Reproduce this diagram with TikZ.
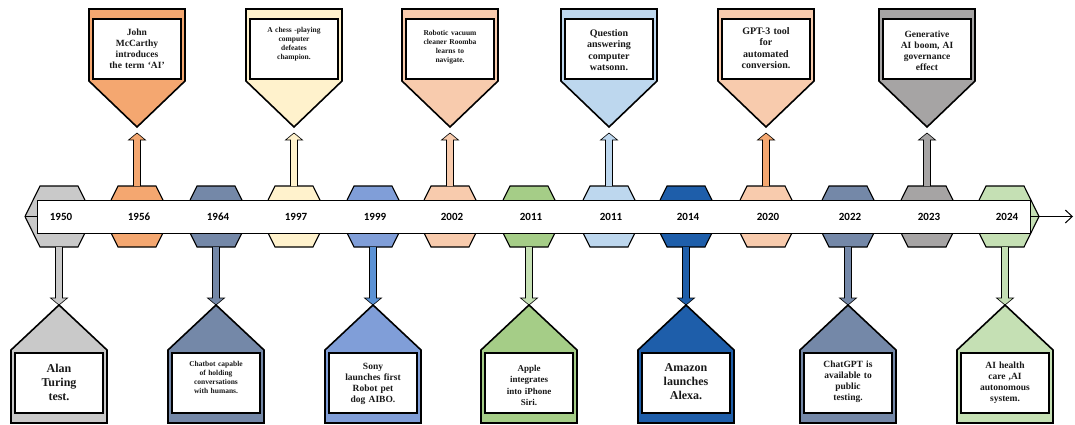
\documentclass[tikz,border=0pt]{standalone}
\usepackage{fontspec}
\setmainfont{Liberation Serif}
\newfontfamily\yearfont{Carlito}
\usetikzlibrary{calc}
\usetikzlibrary{arrows.meta}
\usepackage{xcolor}

\definecolor{cGray}{RGB}{201,201,201}
\definecolor{cOrange}{RGB}{244,167,112}
\definecolor{cSlate}{RGB}{116,136,168}
\definecolor{cYellow}{RGB}{255,242,204}
\definecolor{cBlue}{RGB}{128,158,216}
\definecolor{cBlueA}{RGB}{91,146,213}
\definecolor{cPeach}{RGB}{248,203,173}
\definecolor{cGreen}{RGB}{165,205,135}
\definecolor{cSky}{RGB}{189,215,238}
\definecolor{cNavy}{RGB}{30,94,170}
\definecolor{cDark}{RGB}{166,164,164}
\definecolor{cMint}{RGB}{197,224,180}

\newcommand{\cardsize}[2]{\fontsize{#1}{#2}\selectfont\bfseries}

\tikzset{
  hexbox/.style={draw=black, line width=1.1pt, line join=miter},
  band/.style={draw=black, line width=1pt, fill=white},
  yearlabel/.style={font=\yearfont\bfseries\fontsize{11}{12}\selectfont, inner sep=0pt},
  blockarrow/.style={draw=black, line width=0.6pt},
  card/.style={draw=black, line width=1.6pt, line join=miter},
  cardpane/.style={draw=black, line width=1.1pt, fill=white},
  cardtext/.style={anchor=north, inner sep=0pt, text width=84pt, align=center, text=black!90}
}

\begin{document}
\begin{tikzpicture}[x=1pt, y=-1pt]
\useasboundingbox (0,0) rectangle (1075,425);

% hexagons behind the band
\foreach \x/\fc [count=\n] in {59/cGray, 137/cOrange, 216/cSlate, 294/cYellow, 373/cBlue,
    450/cPeach, 529/cGreen, 609/cSky, 686/cNavy, 766/cPeach, 848/cSlate, 927/cDark, 1005/cMint}{
  \coordinate (h\n) at (\x,216.5);
  \draw[hexbox, fill=\fc] (\x-19,186) -- (\x+19,186) -- (\x+34,216.5) -- (\x+19,247)
    -- (\x-19,247) -- (\x-34,216.5) -- cycle;
}

% spine and band
\coordinate (spineA) at (25,216.5);
\coordinate (spineB) at (1073,216.5);
\draw[line width=1pt, -{Straight Barb[length=7pt, width=13pt, line width=1pt]}] (spineA) -- (spineB);
\draw[band] (37,200) rectangle (1030,233);

% years
\foreach \yr [count=\n] in {1950,1956,1964,1997,1999,2002,2011,2011,2014,2020,2022,2023,2024}{
  \node[yearlabel] (y\n) at ($(h\n)+(2,0)$) {\yr};
}

% cards above the band
\foreach \x/\fc/\ac [count=\n] in {137/cOrange/cOrange, 294/cYellow/cYellow, 450/cPeach/cPeach,
    609/cSky/cSky, 766/cPeach/cOrange, 927/cDark/cDark}{
  \coordinate (ub\n) at (\x,186);
  \coordinate (ut\n) at (\x,127);
  \draw[blockarrow, fill=\ac] (ub\n) ++(-3.5,0) -- ++(0,-46) -- ++(-5,0) -- ++(8.5,-7)
    -- ++(8.5,7) -- ++(-5,0) -- ++(0,46);
  \draw[card, fill=\fc] (ut\n) -- ++(-48,-46) -- ++(0,-72) -- ++(96,0) -- ++(0,72) -- cycle;
  \draw[cardpane] (\x-44,19) rectangle (\x+44,79);
}

% cards below the band
\foreach \x/\fc/\ac [count=\n] in {59/cGray/cGray, 216/cSlate/cSlate, 373/cBlue/cBlueA,
    529/cGreen/cMint, 686/cNavy/cNavy, 848/cSlate/cSlate, 1005/cMint/cMint}{
  \coordinate (db\n) at (\x,247);
  \coordinate (dt\n) at (\x,305);
  \draw[blockarrow, fill=\ac] (db\n) ++(-3.5,0) -- ++(0,51) -- ++(-5,0) -- ++(8.5,7)
    -- ++(8.5,-7) -- ++(-5,0) -- ++(0,-51);
  \draw[card, fill=\fc] (dt\n) -- ++(48,45) -- ++(0,73) -- ++(-96,0) -- ++(0,-73) -- cycle;
  \draw[cardpane] (\x-44,353) rectangle (\x+44,413);
}

% texts above
\node[cardtext, font=\cardsize{9.5}{11}] (t1956) at (137,29) {John\\McCarthy\\introduces\\the term `AI'};
\node[cardtext, font=\cardsize{7.5}{9}] (t1997) at (294,27) {A chess -playing\\computer\\defeates\\champion.};
\node[cardtext, font=\cardsize{7.5}{9}] (t2002) at (450,30) {Robotic vacuum\\cleaner Roomba\\learns to\\navigate.};
\node[cardtext, font=\cardsize{10}{11.5}] (t2011) at (609,29) {Question\\answering\\computer\\watsonn.};
\node[cardtext, font=\cardsize{10}{11.5}] (t2020) at (766,27) {GPT-3 tool\\for\\automated\\conversion.};
\node[cardtext, font=\cardsize{9.5}{11}] (t2023) at (927,31) {Generative\\AI boom, AI\\governance\\effect};

% texts below
\node[cardtext, font=\cardsize{12}{14}] (t1950) at (59,364) {Alan\\Turing\\test.};
\node[cardtext, font=\cardsize{7.5}{9}] (t1964) at (216,361) {Chatbot capable\\of holding\\conversations\\with humans.};
\node[cardtext, font=\cardsize{9.5}{11}] (t1999) at (373,363) {Sony\\launches first\\Robot pet\\dog AIBO.};
\node[cardtext, font=\cardsize{9}{11.3}] (t2011b) at (529,365) {Apple\\integrates\\into iPhone\\Siri.};
\node[cardtext, font=\cardsize{12}{14}] (t2014) at (686,363) {Amazon\\launches\\Alexa.};
\node[cardtext, font=\cardsize{9.5}{11}] (t2022) at (848,361) {ChatGPT is\\available to\\public\\testing.};
\node[cardtext, font=\cardsize{9.5}{11}] (t2024) at (1005,362) {AI health\\care ,AI\\autonomous\\system.};
\end{tikzpicture}
\end{document}
